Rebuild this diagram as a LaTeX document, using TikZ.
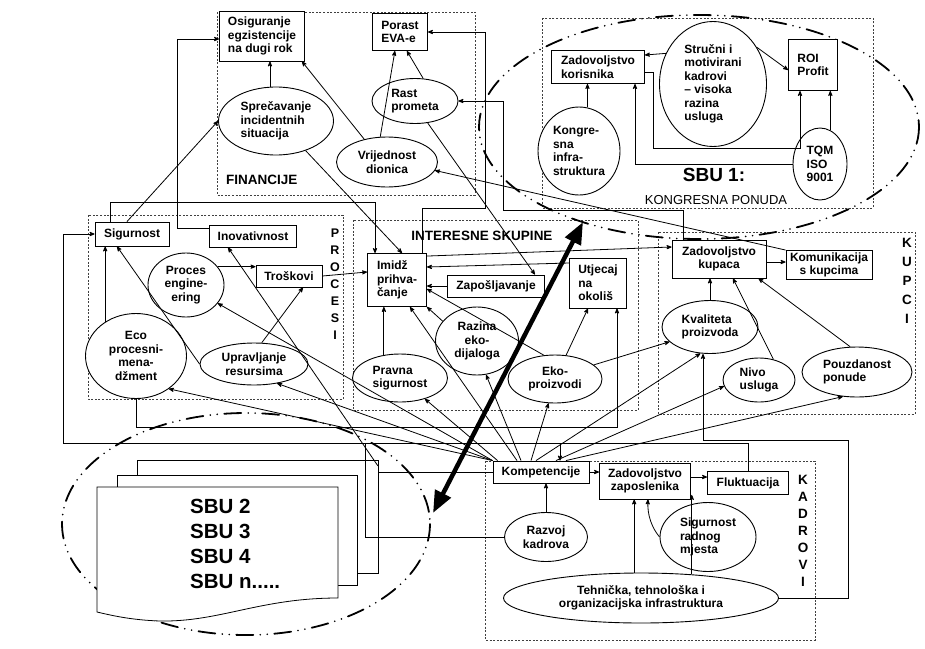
\documentclass[tikz,border=0pt]{standalone}
\usepackage{fontspec}
\setmainfont{Liberation Sans}
\usepackage{tikz}
\usetikzlibrary{shapes.geometric}
\usetikzlibrary{arrows,arrows.meta}
\tikzset{
	box node/.style={rectangle,draw,fill=white,line width=0.9pt,inner sep=1pt,font=\fontsize{12}{13.5}\selectfont\bfseries},
	oval node/.style={ellipse,draw,fill=white,line width=0.9pt,inner sep=0pt,font=\fontsize{12}{13.5}\selectfont\bfseries},
	area/.style={draw=black!75,line width=0.6pt,dash pattern=on 2pt off 1.6pt},
	area label/.style={font=\fontsize{13.5}{17}\selectfont\bfseries,inner sep=0pt,align=center},
	sbu ring/.style={line width=1.8pt,line cap=round,dash pattern=on 17pt off 7pt on 0pt off 7pt on 0pt off 7pt},
	link/.style={->,line width=0.8pt}
}

\begin{document}
\begin{tikzpicture}[>=stealth',x=1pt,y=-1pt]
            \useasboundingbox (0,0) rectangle (925,648);
            \fill[white] (0,0) rectangle (925,648);
            % areas
            \draw[area] (217,12) rectangle (475,195);
            \draw[area] (542,18) rectangle (873,208);
            \draw[area] (88,215) rectangle (343,399);
            \draw[area] (353,220) rectangle (638,410);
            \draw[area] (658,232) rectangle (915,414);
            \draw[area] (485,461) rectangle (815,640);
            % SBU rings
            \draw[sbu ring] (699,127) ellipse [x radius=220, y radius=112];
            \draw[sbu ring] (246,524) ellipse [x radius=184, y radius=111];
            % SBU pages
            \node [draw,fill=white,line width=0.8pt,minimum width=241pt,minimum height=113pt] (sbuback) at (257.5,516.5) {};
            \node [draw,fill=white,line width=0.8pt,minimum width=240pt,minimum height=110pt] (sbumid) at (237,530) {};
            \draw[fill=white,line width=0.8pt] (97,487) -- (338,487) -- (338,598)
              .. controls (260,598) and (220,622) .. (160,621)
              .. controls (130,620) and (110,615) .. (97,612) -- cycle;
            \node [font=\fontsize{20.5}{25}\selectfont\bfseries,align=left,inner sep=0pt,anchor=north west] (sbutxt) at (190,499) {SBU 2\\SBU 3\\SBU 4\\SBU n.....};

            % financije
            \node [box node,minimum width=85pt,minimum height=50pt,align=left] (osig) at (262,36) {Osiguranje\\egzistencije\\na dugi rok};
            \node [box node,minimum width=55pt,minimum height=37pt,align=left] (porast) at (400,32) {Porast\\EVA-e};
            \node [oval node,minimum width=115pt,minimum height=68pt,align=left] (sprec) at (276,121) {Sprečavanje\\incidentnih\\situacija};
            \node [oval node,minimum width=86pt,minimum height=45pt,align=left] (rast) at (415,101) {Rast\\prometa};
            \node [oval node,minimum width=101pt,minimum height=50pt,align=center] (vrijed) at (387,162) {Vrijednost\\dionica};
            \node [area label,anchor=west] (finlbl) at (226,180) {FINANCIJE};

            % SBU 1
            \node [box node,minimum width=93pt,minimum height=33pt,align=left] (zadkor) at (598,67) {Zadovoljstvo\\korisnika};
            \node [oval node,minimum width=107pt,minimum height=125pt,align=left] (strucni) at (713,84) {Stručni i\\motivirani\\kadrovi\\-- visoka\\razina\\usluga};
            \node [box node,minimum width=49pt,minimum height=51pt,align=left] (roi) at (813,65) {ROI\\Profit};
            \node [oval node,minimum width=82pt,minimum height=88pt,align=left] (kongres) at (579,151) {Kongre-\\sna\\infra-\\struktura};
            \node [oval node,minimum width=54pt,minimum height=72pt,align=left] (tqm) at (820,164) {TQM\\ISO\\9001};
            \node [font=\fontsize{19}{22}\selectfont\bfseries,inner sep=0pt] (sbulbl) at (714,175) {SBU 1:};
            \node [font=\fontsize{13}{15}\selectfont,inner sep=0pt] (sbusub) at (716,200) {KONGRESNA PONUDA};

            % procesi
            \node [box node,minimum width=74pt,minimum height=24pt] (sigurnost) at (132,234) {Sigurnost};
            \node [box node,minimum width=87pt,minimum height=22pt] (inovat) at (253,236) {Inovativnost};
            \node [oval node,minimum width=76pt,minimum height=64pt,align=center] (proces) at (186,285) {Proces\\engine-\\ering};
            \node [box node,minimum width=66pt,minimum height=22pt] (troskovi) at (289,276) {Troškovi};
            \node [oval node,minimum width=101pt,minimum height=85pt,align=center] (eco) at (136,356) {Eco\\procesni-\\mena-\\džment};
            \node [oval node,minimum width=108pt,minimum height=42pt,align=center] (upravlj) at (254,364) {Upravljanje\\resursima};
            \node [area label,font=\fontsize{12.5}{17}\selectfont\bfseries] (proclbl) at (335,284) {P\\R\\O\\C\\E\\S\\I};

            % interesne skupine
            \node [box node,minimum width=59pt,minimum height=53pt,align=left] (imidz) at (397,280) {Imidž\\prihva-\\čanje};
            \node [box node,minimum width=97pt,minimum height=22pt] (zaposlj) at (496,286) {Zapošljavanje};
            \node [box node,minimum width=57pt,minimum height=50pt,align=left] (utjecaj) at (598,283) {Utjecaj\\na\\okoliš};
            \node [oval node,minimum width=95pt,minimum height=48pt,align=left] (pravna) at (400,378) {Pravna\\sigurnost};
            \node [oval node,minimum width=83pt,minimum height=68pt,align=center] (razina) at (477,341) {Razina\\eko-\\dijaloga};
            \node [oval node,minimum width=94pt,minimum height=48pt,align=center] (ekopro) at (555,379) {Eko-\\proizvodi};
            \node [area label] (intlbl) at (482,236) {INTERESNE SKUPINE};

            % kupci
            \node [box node,minimum width=94pt,minimum height=38pt,align=center] (zadkup) at (719,259) {Zadovoljstvo\\kupaca};
            \node [box node,minimum width=86pt,minimum height=29pt,align=center] (komun) at (829,265) {Komunikacija\\s kupcima};
            \node [oval node,minimum width=96pt,minimum height=53pt,align=left] (kvalit) at (710,327) {Kvaliteta\\proizvoda};
            \node [oval node,minimum width=72pt,minimum height=44pt,align=left] (nivo) at (759,380) {Nivo\\usluga};
            \node [oval node,minimum width=110pt,minimum height=50pt,align=left] (pouzd) at (857,372) {Pouzdanost\\ponude};
            \node [area label,font=\fontsize{13.5}{19}\selectfont\bfseries] (kuplbl) at (907,281) {K\\U\\P\\C\\I};

            % kadrovi
            \node [box node,minimum width=96pt,minimum height=22pt] (kompet) at (541,472) {Kompetencije};
            \node [box node,minimum width=91pt,minimum height=36pt,align=center] (zadzap) at (645,481) {Zadovoljstvo\\zaposlenika};
            \node [box node,minimum width=81pt,minimum height=23pt] (flukt) at (748,483) {Fluktuacija};
            \node [oval node,minimum width=83pt,minimum height=49pt,align=center] (razvoj) at (546,537) {Razvoj\\kadrova};
            \node [oval node,minimum width=96pt,minimum height=69pt,align=left] (sigrad) at (708,537) {Sigurnost\\radnog\\mjesta};
            \node [oval node,minimum width=275pt,minimum height=50pt,align=center] (tehn) at (641,598) {Tehnička, tehnološka i\\organizacijska infrastruktura};
            \node [area label,font=\fontsize{13.5}{17}\selectfont\bfseries] (kadlbl) at (803,531) {K\\A\\D\\R\\O\\V\\I};

            % links: financije
            \draw[link] (sprec.100) -- (sprec.100 |- osig.south);
            \draw[link] (vrijed.135) -- ([xshift=-3pt]osig.south east);
            \draw[link] (vrijed.105) -- (porast.255);
            \draw[link] (rast.70) -- (porast.290);
            \draw[link] ([xshift=-5pt]imidz.north east) |- (485,208) |- (porast.east);
            \draw[link] ([xshift=-36pt]zadkup.north) |- (503,210) |- (rast.east);
            \draw[link] (rast.-60) -- ([xshift=-10pt]zaposlj.north east);
            \draw[link] (komun.north west) -- (vrijed.-10);
            \draw[link] (sprec.-45) -- ([xshift=5pt]imidz.north);

            % links: procesi
            \coordinate (inovjoin) at (378,466);
            \draw[link] ([xshift=-5pt]sigurnost.north) -- (sprec.west);
            \draw[link] ([xshift=-22pt]sigurnost.north) |- (375,202) -- ([xshift=-22pt]imidz.north);
            \draw[link] ([yshift=8pt]inovat.west) -- (177,228) |- ([yshift=-3pt]osig.west);
            \draw[link] (proces.30) -- (proces.30 -| troskovi.west);
            \draw[link] (upravlj.70) -- ([xshift=14pt]troskovi.south);
            \draw[link] (troskovi.east) -- ([yshift=8pt]imidz.west);
            \draw[link] (eco.132) -- (eco.132 |- sigurnost.south);
            \draw[link] (upravlj.west) -- ([xshift=-15pt]sigurnost.south);
            \draw[link] (inovjoin) -- ([xshift=-25pt]inovat.south);

            % links: interesne skupine
            \draw[link] ([yshift=20pt]utjecaj.west) -- ([yshift=13pt]imidz.east);
            \draw[link] (zaposlj.west) -- (zaposlj.west -| imidz.east);
            \draw[link] (ekopro.115) -- ([yshift=-9pt]imidz.east);
            \draw[link] (razina.150) -- (imidz.south east);
            \draw[link] (pravna.125) -- (pravna.125 |- imidz.south);
            \draw[link] (ekopro.65) -- ([xshift=-10pt]utjecaj.south);
            \draw[link] (ekopro.20) -- (kvalit.200);
            \draw[link] (eco.south) |- (617,427) -- ([xshift=19pt]utjecaj.south);
            \draw[link] ([yshift=-3pt]imidz.north east) -- ([yshift=12pt]zadkup.west);

            % links: kupci
            \draw[link] ([yshift=-3pt]zadkup.east) -- ([yshift=-3pt]zadkup.east -| komun.west);
            \draw[link] (kvalit.north) -- (kvalit.north |- zadkup.south);
            \draw[link] (nivo.55) -- ([xshift=14pt]zadkup.south);
            \draw[link] (pouzd.105) -- ([xshift=-8pt]zadkup.south east);

            % links: kadrovi
            \coordinate (fk) at (560,443);
            \coordinate (rj) at (365,443);
            \draw[link] (kompet.east) -- (kompet.east -| zadzap.west);
            \draw[link] ([yshift=4pt]zadzap.east) -- ([yshift=4pt]zadzap.east -| flukt.west);
            \draw[link] (razvoj.north) -- (razvoj.north |- kompet.south);
            \draw[link] (sigrad.west) .. controls (652,528) and (647,515) .. ([xshift=3pt]zadzap.south);
            \draw[link] (tehn.105) -- (tehn.105 |- zadzap.south);
            \draw[link] (tehn.25) -- (tehn.25 |- flukt.south);
            \draw[link] (tehn.east) -| (848,440) -| ([xshift=-7pt]kvalit.south);
            \draw[link] (flukt.north) |- (63,443) |- (sigurnost.west);
            \draw[link] (fk) -- (fk |- kompet.north);
            \draw[line width=0.8pt] (razvoj.west) -| (rj);

            % links: kompetencije
            \draw[link] (kompet.north west) -- (proces.-30);
            \draw[link] (kompet.north west) -- (upravlj.-40);
            \draw[link] (kompet.north west) -- (eco.-45);
            \draw[link] ([xshift=5pt]kompet.north west) -- (pravna.-40);
            \draw[link] ([xshift=-24pt]kompet.north) -- ([xshift=13pt]imidz.south);
            \draw[link] ([xshift=-20pt]kompet.north) -- (razina.-75);
            \draw[link] ([xshift=-10pt]kompet.north) -- (ekopro.-105);
            \draw[link] ([xshift=-5pt]kompet.north) -- (kvalit.-110);
            \draw[link] ([xshift=15pt]kompet.north) -- (nivo.190);
            \draw[link] ([xshift=25pt]kompet.north) -- (pouzd.-120);
            \draw[line width=0.8pt] (sbuback.east |- kompet.west) -- (kompet.west);

            % links: SBU 1
            \draw[link] (strucni.147) -- ([yshift=12pt]zadkor.east);
            \draw[link] (strucni.40) -- ([yshift=-5pt]roi.west);
            \draw[link] ([yshift=-5pt]zadkor.east) -| (653,148) -| ([xshift=-13pt]roi.south);
            \draw[link] (tqm.west) -| ([xshift=37pt]zadkor.south);
            \draw[link] (tqm.73) -- (tqm.73 |- roi.south);
            \draw[link] (kongres.79) -- (kongres.79 |- zadkor.south);

            % SBU 1 <-> other SBU
            \coordinate (ta) at (433,513);
            \coordinate (tb) at (583,222);
            \draw[{Triangle[length=22pt,width=17pt]}-{Triangle[length=22pt,width=17pt]},line width=4.5pt] (ta) -- (tb);
\end{tikzpicture}
\end{document}
